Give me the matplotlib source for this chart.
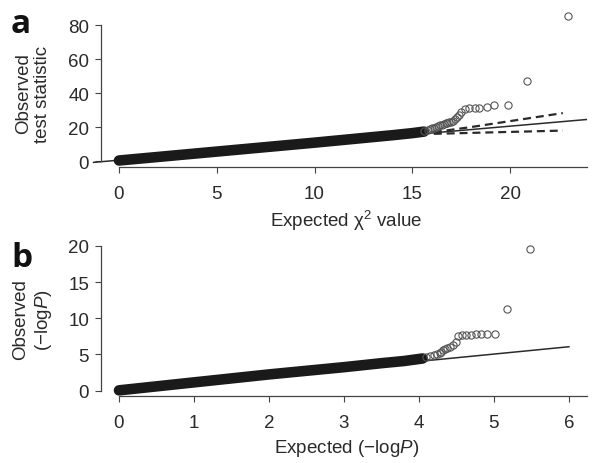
import matplotlib
matplotlib.use('Agg')
from matplotlib import pyplot

pyplot.rcParams['font.family'] = ['Liberation Sans', 'DejaVu Sans']
pyplot.rcParams['mathtext.fontset'] = 'custom'
pyplot.rcParams['mathtext.rm'] = 'Liberation Sans'
pyplot.rcParams['mathtext.it'] = 'Liberation Sans:italic'


# panel a: chi-square QQ (dense bulk drawn as a band, tail as circles)
band_a_x = [0, 2, 4, 6, 8, 10, 12, 14, 15, 15.6]
band_a_y = [0.3, 2.4, 4.5, 6.6, 8.7, 10.8, 13.0, 15.2, 16.4, 17.3]
tail_a_x = [15.6, 15.8, 15.9, 16.0, 16.1, 16.2, 16.3, 16.4, 16.5, 16.6, 16.7,
            16.8, 16.9, 17.0, 17.1, 17.2, 17.3, 17.4, 17.5, 17.7, 17.9, 18.2,
            18.4, 18.8, 19.2, 19.9, 20.85, 22.96]
tail_a_y = [17.4, 18.0, 18.6, 19.2, 19.6, 20.2, 20.8, 21.0, 21.4, 21.8, 22.2,
            22.6, 22.9, 23.2, 23.6, 24.6, 25.7, 27.2, 28.6, 30.6, 31.0, 31.0,
            31.0, 31.6, 33.1, 33.1, 47.2, 85.3]
null_a_x = [-1.3, 23.9]
null_a_y = [-0.8, 24.4]
upper_a_x = [16.1, 17.9, 22.7]
upper_a_y = [17.0, 19.8, 28.2]
lower_a_x = [16.1, 22.7]
lower_a_y = [16.0, 17.9]

# panel b: -log P QQ
band_b_x = [0, 0.5, 1, 1.5, 2, 2.5, 3, 3.5, 3.8, 4.05]
band_b_y = [0.05, 0.6, 1.15, 1.7, 2.25, 2.75, 3.25, 3.8, 4.1, 4.45]
tail_b_x = [4.1, 4.15, 4.2, 4.24, 4.28, 4.3, 4.32, 4.35, 4.37, 4.41, 4.46,
            4.49, 4.52, 4.57, 4.63, 4.69, 4.76, 4.83, 4.91, 5.01, 5.18, 5.48]
tail_b_y = [4.6, 4.75, 4.95, 5.05, 5.2, 5.35, 5.6, 5.8, 5.95, 6.1, 6.25,
            6.7, 7.6, 7.63, 7.68, 7.72, 7.77, 7.8, 7.86, 7.86, 11.3, 19.5]
null_b_x = [0, 6]
null_b_y = [0, 6.07]

xticks_a = [0, 5, 10, 15, 20]
yticks_a = [0, 20, 40, 60, 80]
xticks_b = [0, 1, 2, 3, 4, 5, 6]
yticks_b = [0, 5, 10, 15, 20]

ink = '#2a2a2a'
spine_col = '#444444'
circ_col = '#555555'
fs = 13.5


def style(ax, xb, yb, xt, yt):
    for side in ('top', 'right'):
        ax.spines[side].set_visible(False)
    for side in ('left', 'bottom'):
        ax.spines[side].set_color(spine_col)
        ax.spines[side].set_linewidth(0.9)
    ax.spines['bottom'].set_bounds(*xb)
    ax.spines['left'].set_bounds(*yb)
    ax.set_xticks(xt)
    ax.set_yticks(yt)
    ax.tick_params(direction='out', length=4.3, width=0.8, color=spine_col,
                   labelsize=fs, labelcolor=ink)
    ax.tick_params(axis='x', pad=9)
    ax.tick_params(axis='y', pad=4)
    ax.patch.set_visible(False)


fig = pyplot.figure(figsize=(6, 4.64), dpi=100)

ax1 = fig.add_axes([0.1678, 0.6379, 0.8188, 0.3448])
ax1.set_xlim(-0.936, 24.19)
ax1.set_ylim(-3.53, 90.6)
ax1.plot(null_a_x, null_a_y, color=ink, lw=1.1, clip_on=False, zorder=2)
ax1.plot(upper_a_x, upper_a_y, color=ink, lw=1.6, dashes=(3.6, 2.2), zorder=2)
ax1.plot(lower_a_x, lower_a_y, color=ink, lw=1.6, dashes=(3.6, 2.2), zorder=2)
ax1.plot(band_a_x, band_a_y, color='#1a1a1a', lw=7.6,
         solid_capstyle='round', zorder=3)
ax1.plot(tail_a_x, tail_a_y, ls='none', marker='o', ms=5.2, mfc='none',
         mec=circ_col, mew=0.8, zorder=4, clip_on=False)
style(ax1, (0, 23.94), (0, 80), xticks_a, yticks_a)
ax1.set_xlabel('Expected χ$^2$ value', fontsize=fs, color=ink, labelpad=4)

ax2 = fig.add_axes([0.1678, 0.1444, 0.8188, 0.3384])
ax2.set_xlim(-0.244, 6.307)
ax2.set_ylim(-0.73, 20.95)
ax2.plot(null_b_x, null_b_y, color=ink, lw=1.1, zorder=2)
ax2.plot(band_b_x, band_b_y, color='#1a1a1a', lw=7.6,
         solid_capstyle='round', zorder=3)
ax2.plot(tail_b_x, tail_b_y, ls='none', marker='o', ms=5.2, mfc='none',
         mec=circ_col, mew=0.8, zorder=4, clip_on=False)
style(ax2, (0, 6.24), (0, 20), xticks_b, yticks_b)
ax2.set_xlabel('Expected (−log$\\it{P}$)', fontsize=fs, color=ink, labelpad=4)

# y labels and panel letters placed in figure pixels
fig.text(33 / 600, 1 - 94 / 464, 'Observed\ntest statistic', rotation=90,
         ha='center', va='center', fontsize=fs, color=ink, linespacing=1.2)
fig.text(33 / 600, 1 - 320 / 464, 'Observed\n(−log$\\it{P}$)', rotation=90,
         ha='center', va='center', fontsize=fs, color=ink, linespacing=1.2)
fig.text(11 / 600, 1 - 33 / 464, 'a', fontsize=24, fontweight='bold',
         family='Open Sans', color='#111111')
fig.text(11 / 600, 1 - 267 / 464, 'b', fontsize=24, fontweight='bold',
         family='Open Sans', color='#111111')

fig.savefig('out.png', dpi=100)
